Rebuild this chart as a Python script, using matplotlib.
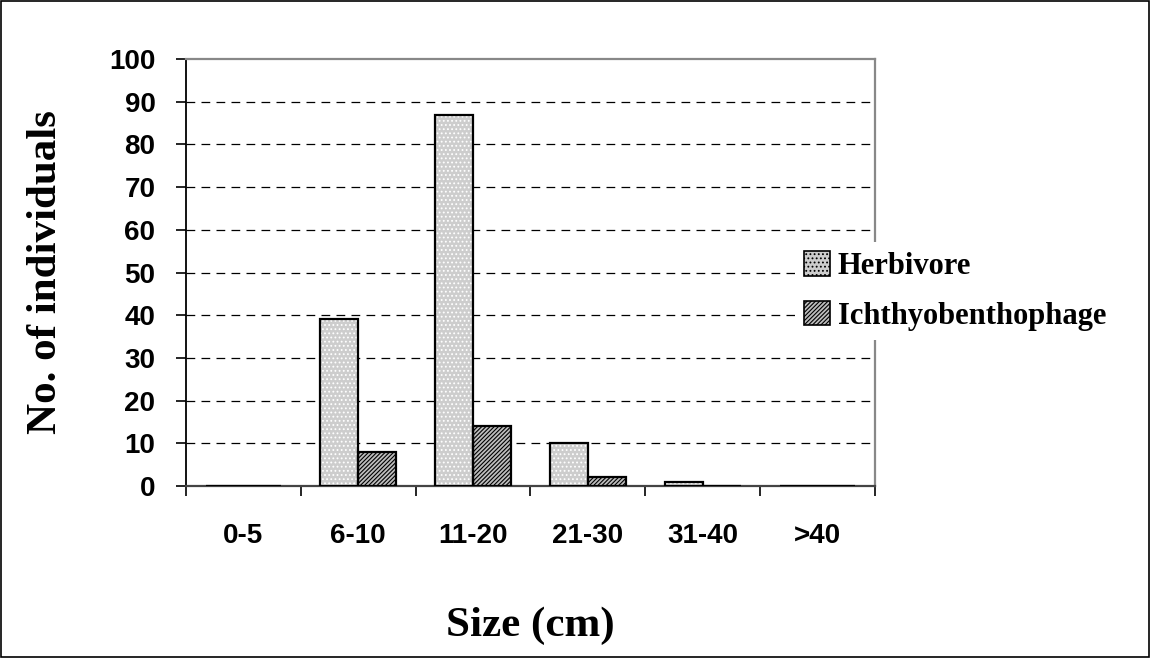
import matplotlib.pyplot as plt
import numpy as np
from matplotlib.patches import Rectangle, Patch

categories = ['0-5', '6-10', '11-20', '21-30', '31-40', '>40']
herbivore = [0, 39, 87, 10, 1, 0]
ichthyobenthophage = [0, 8, 14, 2, 0, 0]
yticks = list(range(0, 101, 10))

plt.rcParams['hatch.linewidth'] = 0.8

fig = plt.figure(figsize=(11.51, 6.58), dpi=100)
ax = fig.add_axes([0.1616, 0.2614, 0.5986, 0.6489])

x = np.arange(len(categories))
w = 0.33

# fill layer (hatch colour comes from edgecolor), then black outline on top
ax.bar(x - w / 2, herbivore, w, color='#cdcdcd', edgecolor='white', linewidth=0,
       hatch='....', zorder=3)
ax.bar(x + w / 2, ichthyobenthophage, w, color='#bdbdbd', edgecolor='black', linewidth=0,
       hatch='////////', zorder=3)
ax.bar(x - w / 2, herbivore, w, fill=False, edgecolor='black', linewidth=1.6, zorder=4)
ax.bar(x + w / 2, ichthyobenthophage, w, fill=False, edgecolor='black', linewidth=1.6, zorder=4)

ax.set_xlim(-0.5, len(categories) - 0.5)
ax.set_ylim(0, 100)
ax.set_yticks(yticks)
ax.set_xticks(x)
ax.set_xticklabels(categories)
ax.set_xticks(np.arange(len(categories) + 1) - 0.5, minor=True)
ax.tick_params(axis='x', which='major', length=0, pad=27)
ax.tick_params(axis='x', which='minor', length=7, width=1.2, direction='out')
ax.tick_params(axis='y', length=7, width=1.2, direction='out', pad=15)
for lab in ax.get_xticklabels() + ax.get_yticklabels():
    lab.set_fontfamily('Liberation Sans')
    lab.set_fontweight('bold')
    lab.set_fontsize(20)

for yv in yticks[1:-1]:
    ax.axhline(yv, color='black', linestyle=(0, (7, 5)), linewidth=0.9, zorder=1)

ax.spines['top'].set_color('#888888')
ax.spines['right'].set_color('#888888')
ax.spines['bottom'].set_color('#444444')
ax.spines['left'].set_linewidth(1.3)
ax.spines['bottom'].set_linewidth(1.6)
ax.spines['top'].set_linewidth(1.6)
ax.spines['right'].set_linewidth(1.6)

ax.set_ylabel('No. of individuals', fontfamily='Liberation Serif', fontweight='bold',
              fontsize=31, labelpad=32)
ax.set_xlabel('Size (cm)', fontfamily='Liberation Serif', fontweight='bold',
              fontsize=31, labelpad=41)

handles = [Patch(facecolor='#cdcdcd', edgecolor='black', linewidth=1.2, hatch='....'),
           Patch(facecolor='#bdbdbd', edgecolor='black', linewidth=1.2, hatch='////////')]
leg = fig.legend(handles, ['Herbivore', 'Ichthyobenthophage'],
                 loc='center left', bbox_to_anchor=(795 / 1151, 1 - 291 / 658),
                 frameon=True, facecolor='white', edgecolor='none', framealpha=1,
                 fancybox=False, borderaxespad=0, borderpad=0.3,
                 prop={'family': 'Liberation Serif', 'weight': 'bold', 'size': 22},
                 handlelength=0.85, handleheight=0.85, handletextpad=0.25, labelspacing=0.65)
leg.set_zorder(10)

fig.patches.append(Rectangle((0.0005, 0.001), 0.998, 0.997, transform=fig.transFigure,
                             fill=False, edgecolor='black', linewidth=1.2))

fig.savefig('out.png', dpi=100)
